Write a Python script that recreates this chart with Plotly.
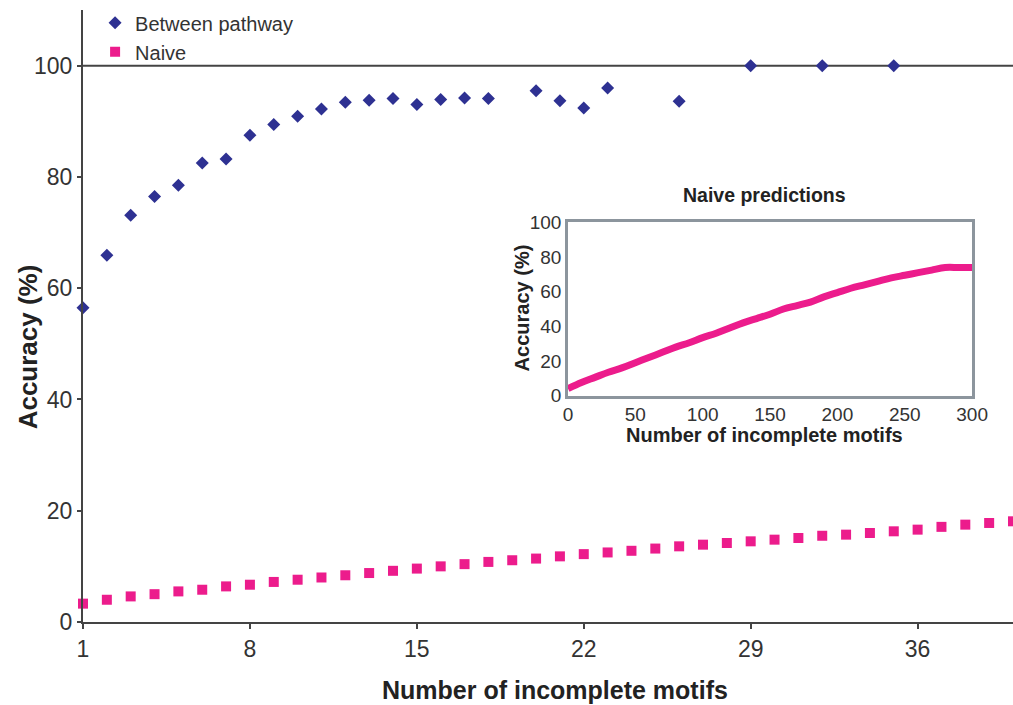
import plotly.graph_objects as go

# ---- data ----
between_x = [1, 2, 3, 4, 5, 6, 7, 8, 9, 10, 11, 12, 13, 14, 15, 16, 17, 18,
             20, 21, 22, 23, 26, 29, 32, 35]
between_y = [56.5, 65.9, 73.1, 76.5, 78.5, 82.5, 83.2, 87.5, 89.4, 90.9, 92.2,
             93.4, 93.8, 94.1, 93.0, 93.9, 94.2, 94.1,
             95.5, 93.7, 92.4, 96.0, 93.6, 100, 100, 100]

naive_x = list(range(1, 41))
naive_y = [3.3, 4.0, 4.6, 5.0, 5.5, 5.8, 6.4, 6.7, 7.2, 7.6, 8.0, 8.4, 8.8,
           9.2, 9.6, 10.0, 10.4, 10.8, 11.1, 11.4, 11.8, 12.2, 12.5, 12.8,
           13.2, 13.6, 13.9, 14.2, 14.5, 14.8, 15.1, 15.5, 15.7, 16.0, 16.3,
           16.6, 17.1, 17.5, 17.8, 18.1]

inset_x = [0, 10, 20, 30, 40, 50, 60, 70, 80, 90, 100, 110, 120, 130, 140,
           150, 160, 170, 180, 190, 200, 210, 220, 230, 240, 250, 260, 270,
           280, 290, 300]
inset_y = [4, 7.5, 10.5, 13.5, 16, 19, 22, 25, 28, 30.5, 33.5, 36, 39, 42,
           44.5, 47, 50, 52, 54, 57, 59.5, 62, 64, 66, 68, 69.5, 71, 72.5,
           74, 74, 74]

main_xticks = [1, 8, 15, 22, 29, 36]
main_yticks = [0, 20, 40, 60, 80, 100]
inset_xticks = [0, 50, 100, 150, 200, 250, 300]
inset_yticks = [0, 20, 40, 60, 80, 100]

BLUE = "#2E3192"
PINK = "#EC1C8C"
TXT = "#333333"
FONT = "Liberation Sans, Arial, Helvetica, sans-serif"

fig = go.Figure()

fig.add_trace(go.Scatter(
    x=between_x, y=between_y, mode="markers", name="Between pathway",
    marker=dict(symbol="diamond", size=10, color=BLUE),
    cliponaxis=False, xaxis="x", yaxis="y"))
fig.add_trace(go.Scatter(
    x=naive_x, y=naive_y, mode="markers", name="Naive",
    marker=dict(symbol="square", size=10, color=PINK),
    cliponaxis=False, xaxis="x", yaxis="y"))
fig.add_trace(go.Scatter(
    x=inset_x, y=inset_y, mode="lines", showlegend=False,
    line=dict(color=PINK, width=7, shape="spline"),
    xaxis="x2", yaxis="y2"))

fig.update_layout(
    width=1013, height=705,
    autosize=False,
    margin=dict(l=83, r=0, t=10, b=83, autoexpand=False),
    paper_bgcolor="white", plot_bgcolor="white",
    font=dict(family=FONT, color=TXT),
    showlegend=True,
    legend=dict(x=0.013, y=1.011, xanchor="left", yanchor="top",
                font=dict(size=20, color=TXT), bgcolor="rgba(0,0,0,0)",
                itemsizing="trace", tracegroupgap=0, itemwidth=30),
    xaxis=dict(domain=[0, 1], range=[1, 40], tickvals=main_xticks,
               automargin=False,
               showgrid=False, zeroline=False, showline=True,
               linecolor="#444444", linewidth=2, ticks="outside",
               ticklen=5, tickwidth=1.5, tickcolor="#444444",
               tickfont=dict(size=23, color=TXT)),
    yaxis=dict(domain=[0, 1], range=[0, 110], tickvals=main_yticks,
               automargin=False,
               showgrid=False, zeroline=False, showline=True,
               linecolor="#444444", linewidth=2, ticks="outside",
               ticklen=4, tickwidth=1.5, tickcolor="#444444",
               tickfont=dict(size=23, color=TXT)),
    xaxis2=dict(domain=[0.5215, 0.956], range=[0, 300], anchor="y2",
                automargin=False,
                tickvals=inset_xticks, showgrid=False, zeroline=False,
                showline=True, mirror=True, linecolor="#8C959D",
                linewidth=2.5, ticks="", tickfont=dict(size=19, color=TXT)),
    yaxis2=dict(domain=[0.370, 0.6528], range=[0, 100], anchor="x2",
                automargin=False,
                tickvals=inset_yticks, showgrid=False, zeroline=False,
                showline=True, mirror=True, linecolor="#8C959D",
                linewidth=2.5, ticks="", tickfont=dict(size=19, color=TXT)),
)

# reference line at 100 %
fig.add_shape(type="line", xref="x domain", yref="y", x0=0, x1=1, y0=100,
              y1=100, line=dict(color="#444444", width=2), layer="below")

# axis titles
fig.add_annotation(text="<b>Number of incomplete motifs</b>", xref="paper",
                   yref="paper", x=0.5075, y=-0.111, xanchor="center",
                   yanchor="middle", showarrow=False,
                   font=dict(size=25, color="#222222"))
fig.add_annotation(text="<b>Accuracy (%)</b>", xref="paper", yref="paper",
                   x=-0.059, y=0.449, textangle=-90, xanchor="center",
                   yanchor="middle", showarrow=False,
                   font=dict(size=26, color="#222222"))
# inset titles
fig.add_annotation(text="<b>Naive predictions</b>", xref="paper",
                   yref="paper", x=0.7325, y=0.697, xanchor="center",
                   yanchor="middle", showarrow=False,
                   font=dict(size=19.5, color="#222222"))
fig.add_annotation(text="<b>Number of incomplete motifs</b>", xref="paper",
                   yref="paper", x=0.7325, y=0.306, xanchor="center",
                   yanchor="middle", showarrow=False,
                   font=dict(size=20, color="#222222"))
fig.add_annotation(text="<b>Accuracy (%)</b>", xref="paper", yref="paper",
                   x=0.472, y=0.514, textangle=-90, xanchor="center",
                   yanchor="middle", showarrow=False,
                   font=dict(size=20, color="#222222"))

fig.write_html("out.html", config={"responsive": False, "displayModeBar": False})

# remove default page margin so the figure sits at the window's top-left
with open("out.html", "r", encoding="utf-8") as f:
    html = f.read()
html = html.replace("<head>", "<head><style>html,body{margin:0;padding:0;overflow:hidden;}</style>", 1)
with open("out.html", "w", encoding="utf-8") as f:
    f.write(html)
